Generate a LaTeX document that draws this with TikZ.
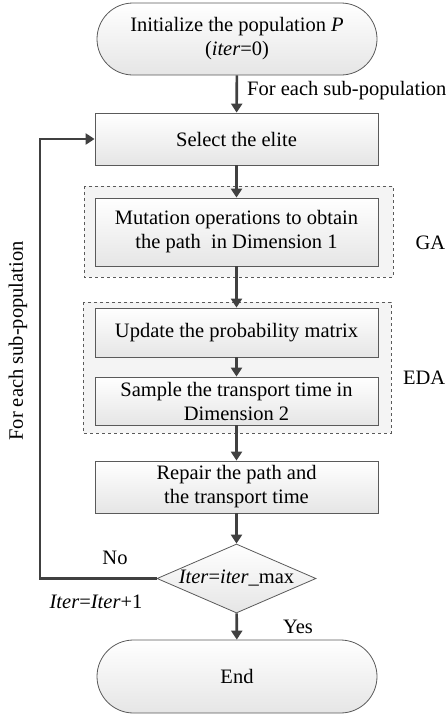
\documentclass[tikz,border=0pt]{standalone}
\usepackage{fontspec}
\setmainfont{Liberation Serif}
\usetikzlibrary{shapes.misc,shapes.geometric,arrows.meta}
\definecolor{edge}{HTML}{5A5A5A}
\definecolor{arr}{HTML}{404040}
\definecolor{grp}{HTML}{F4F4F4}
\tikzset{
  x=1pt,y=-1pt,
  every node/.style={font=\fontsize{20.5}{24}\selectfont, text=black},
  procbox/.style={draw=edge, line width=0.8pt, rectangle, top color=white, bottom color=black!10,
     minimum width=283pt, inner sep=0pt, align=center},
  termbox/.style={draw=edge, line width=0.8pt, rounded rectangle, top color=white, bottom color=black!10,
     minimum width=280pt, inner sep=0pt, align=center},
  decbox/.style={draw=edge, line width=0.8pt, diamond, top color=white, bottom color=black!10,
     minimum width=159pt, minimum height=69pt, inner sep=0pt, aspect=2.3},
  grpbox/.style={draw=edge, dashed, line width=0.6pt, fill=grp},
  flow/.style={draw=arr, line width=2.6pt, -{Triangle[length=9pt,width=11pt]}},
  lbl/.style={inner sep=0pt},
}
\begin{document}
\begin{tikzpicture}
\useasboundingbox (0,0) rectangle (447,716);
% group boxes
\draw[grpbox] (84,186) rectangle (393,277);
\draw[grpbox] (83,302) rectangle (391,433);
% nodes
\node[termbox, minimum height=72pt] (start) at (237,39) {Initialize the population \textit{P}\\(\textit{iter}=0)};
\node[procbox, minimum height=52pt] (select) at (236.5,139) {Select the elite};
\node[procbox, minimum height=68pt] (mut) at (236.5,232) {Mutation operations to obtain\\the path\ \ in Dimension 1};
\node[procbox, minimum height=49pt] (upd) at (236.5,332.5) {Update the probability matrix};
\node[procbox, minimum height=48pt] (samp) at (236.5,401) {Sample the transport time in\\Dimension 2};
\node[procbox, minimum height=52pt] (rep) at (236.5,487) {Repair the path and\\the transport time};
\node[decbox] (dec) at (236.5,578.5) {\textit{Iter}=\textit{iter}\_max};
\node[termbox, minimum height=73pt] (end) at (237,676.5) {End};
% labels
\node[lbl, anchor=west] (lsub) at (247,91) {For each sub-population};
\node[lbl, anchor=east] (lga) at (445.5,243) {GA};
\node[lbl, anchor=east] (leda) at (445.5,378) {EDA};
\node[lbl] (lno) at (115,558) {No};
\node[lbl] (linc) at (96,602) {\textit{Iter}=\textit{Iter}+1};
\node[lbl] (lyes) at (298,627) {Yes};
\node[lbl, rotate=90] (lloop) at (18,341) {For each sub-population};
% connectors
\coordinate (c1) at (40,578.5);
\coordinate (c2) at (40,139);
\draw[flow] (start) -- (select);
\draw[flow] (select) -- (mut);
\draw[flow] (mut) -- (upd);
\draw[flow] (upd) -- (samp);
\draw[flow] (samp) -- (rep);
\draw[flow] (rep) -- (dec);
\draw[flow] (dec) -- (end);
\draw[flow] (dec.west) -- (c1) -- (c2) -- (select.west);
\end{tikzpicture}
\end{document}
